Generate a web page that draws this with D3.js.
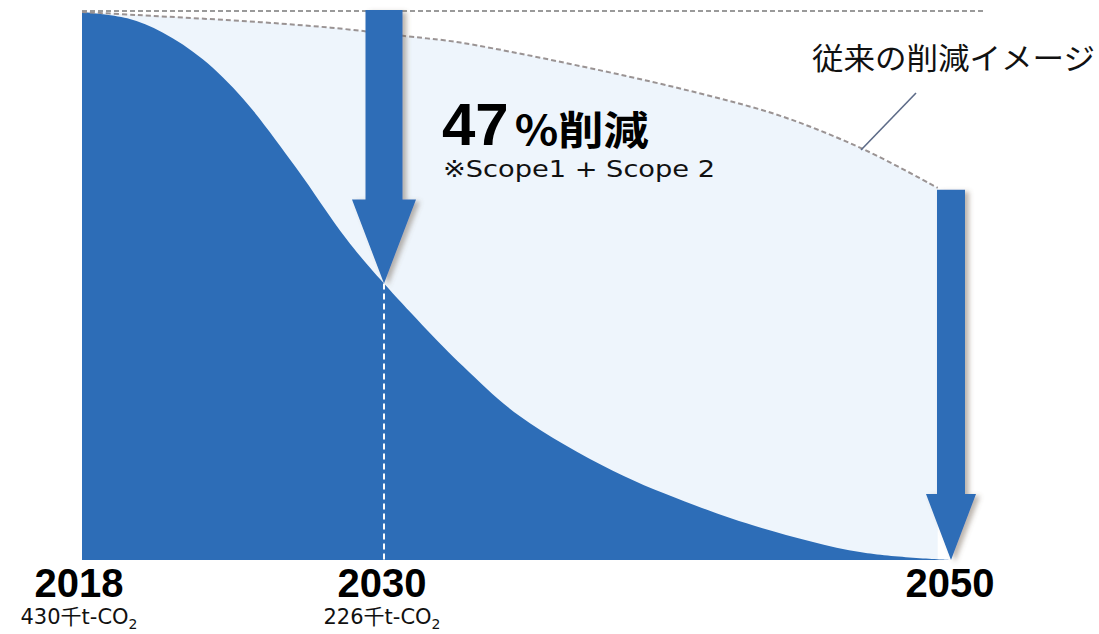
<!DOCTYPE html>
<html>
<head>
<meta charset="utf-8">
<script src="https://cdn.jsdelivr.net/npm/d3@7"></script>
<style>
  html, body { margin: 0; padding: 0; background: #ffffff; }
  svg { display: block; }
</style>
</head>
<body>
<svg id="chart" width="1099" height="634"></svg>
<script>
// ---- data ----
const milestoneYears = [2018, 2030, 2050];
const milestoneLabels = ["2018", "2030", "2050"];
const milestoneValues = ["430", "226", null];
const unitLabel = "千t-CO";

// target reduction path (thousand t-CO2)
const targetYears  = [2018, 2019.8, 2021.2, 2022.8, 2024.4, 2026.5, 2028.5, 2030, 2032.8, 2034.8, 2038.1, 2041, 2043.4, 2046.9, 2050];
const targetValues = [430,  425,    414,    393,    362,    308,    252,    217,  152,    113,    70,     43,   25,     6,      0];

// conventional reduction image (dashed)
const conventionalYears  = [2018, 2020.2, 2025.1, 2028.25, 2030.8, 2032.7, 2037.7, 2041.2, 2044.1, 2047.0, 2049.6];
const conventionalValues = [430,  427.6,  422,    417,     411,    406,    384,    366,    348,    322,    292];

const reductionText = "47";
const reductionUnit = "%削減";
const scopeNote = "※Scope1 + Scope 2";
const conventionalLabel = "従来の削減イメージ";

// ---- scales ----
const x = d3.scaleLinear().domain(milestoneYears).range([82, 384, 949]);
const y = d3.scaleLinear().domain([0, 430]).range([560, 12]);

const svg = d3.select("#chart");
const defs = svg.append("defs");
const f = defs.append("filter").attr("id", "shadow")
  .attr("x", "-50%").attr("y", "-10%").attr("width", "200%").attr("height", "130%");
f.append("feDropShadow").attr("dx", 4).attr("dy", 2).attr("stdDeviation", 2.5)
  .attr("flood-color", "#6b5a4a").attr("flood-opacity", 0.45);

const blue = "#2d6db7";
const target = targetYears.map((d, i) => ({ yr: d, v: targetValues[i] }));
const conv = conventionalYears.map((d, i) => ({ yr: d, v: conventionalValues[i] }));
const smooth = d3.curveCatmullRom.alpha(0.5);

// light area under conventional curve
svg.append("path")
  .datum(conv)
  .attr("fill", "#eef5fc")
  .attr("d", d3.area().curve(smooth)
    .x(d => x(d.yr)).y0(y(0)).y1(d => y(d.v)));

// main blue area
svg.append("path")
  .datum(target)
  .attr("fill", blue)
  .attr("d", d3.area().curve(smooth)
    .x(d => x(d.yr)).y0(y(0)).y1(d => y(d.v)));

// top dashed reference line
svg.append("line")
  .attr("x1", x(2018)).attr("x2", 985)
  .attr("y1", y(430) - 1).attr("y2", y(430) - 1)
  .attr("stroke", "#9a9a9a").attr("stroke-width", 2)
  .attr("stroke-dasharray", "5,3");

// conventional dashed curve
svg.append("path")
  .datum(conv)
  .attr("fill", "none")
  .attr("stroke", "#9a9393").attr("stroke-width", 2)
  .attr("stroke-dasharray", "5,3")
  .attr("d", d3.line().curve(smooth).x(d => x(d.yr)).y(d => y(d.v)));

// leader line for conventional label
svg.append("line")
  .attr("x1", 861).attr("y1", 150).attr("x2", 916).attr("y2", 93)
  .attr("stroke", "#5d6b88").attr("stroke-width", 1.6);

// vertical white dashed line at 2030
const v2030 = targetValues[targetYears.indexOf(2030)];
svg.append("line")
  .attr("x1", x(2030)).attr("x2", x(2030))
  .attr("y1", y(v2030)).attr("y2", y(0))
  .attr("stroke", "#ffffff").attr("stroke-width", 2)
  .attr("stroke-dasharray", "6,4");

// arrows
function arrow(cx, top, tip, shaftHW, headHW, headLen) {
  const hy = tip - headLen;
  return `M${cx - shaftHW},${top} L${cx + shaftHW},${top} L${cx + shaftHW},${hy} L${cx + headHW},${hy} L${cx},${tip} L${cx - headHW},${hy} L${cx - shaftHW},${hy} Z`;
}
svg.append("path")
  .attr("d", arrow(x(2030), 10, y(v2030), 18.5, 32, 84))
  .attr("fill", blue).attr("filter", "url(#shadow)");
svg.append("path")
  .attr("d", arrow(x(2050) + 2, y(conventionalValues[conventionalValues.length - 1]) + 2, y(0), 14, 25, 66))
  .attr("fill", blue).attr("filter", "url(#shadow)");

// 47% text
const bigT = svg.append("text")
  .attr("x", 442).attr("y", 145)
  .attr("font-family", "Liberation Sans, Arial, sans-serif")
  .attr("font-weight", "bold").attr("fill", "#000");
bigT.append("tspan").attr("font-size", 60).text(reductionText);
bigT.append("tspan").attr("font-size", 40).attr("dx", 6)
  .attr("font-family", "'Noto Sans CJK JP', sans-serif")
  .attr("textLength", 134).attr("lengthAdjust", "spacingAndGlyphs")
  .text(reductionUnit);

svg.append("text")
  .attr("x", 443).attr("y", 177)
  .attr("font-family", "'DejaVu Sans', Verdana, sans-serif")
  .attr("font-size", 23).attr("fill", "#111")
  .attr("textLength", 272).attr("lengthAdjust", "spacingAndGlyphs")
  .text(scopeNote);

svg.append("text")
  .attr("x", 812).attr("y", 69)
  .attr("font-family", "'Noto Sans CJK JP', sans-serif")
  .attr("font-size", 30).attr("fill", "#111")
  .attr("textLength", 283).attr("lengthAdjust", "spacingAndGlyphs")
  .text(conventionalLabel);

// year labels
const labelX = [79, 382, 950];
milestoneYears.forEach((yr, i) => {
  svg.append("text")
    .attr("x", labelX[i]).attr("y", 597)
    .attr("text-anchor", "middle")
    .attr("font-family", "Liberation Sans, Arial, sans-serif")
    .attr("font-weight", "bold").attr("font-size", 40).attr("fill", "#000")
    .text(milestoneLabels[i]);
  if (milestoneValues[i]) {
    const t = svg.append("text")
      .attr("x", labelX[i]).attr("y", 624)
      .attr("text-anchor", "middle")
      .attr("font-family", "'DejaVu Sans', 'Noto Sans CJK JP', sans-serif")
      .attr("font-size", 21).attr("fill", "#111");
    t.append("tspan").text(milestoneValues[i] + unitLabel);
    t.append("tspan").attr("font-size", 14).attr("dy", 5).text("2");
  }
});
</script>
</body>
</html>
